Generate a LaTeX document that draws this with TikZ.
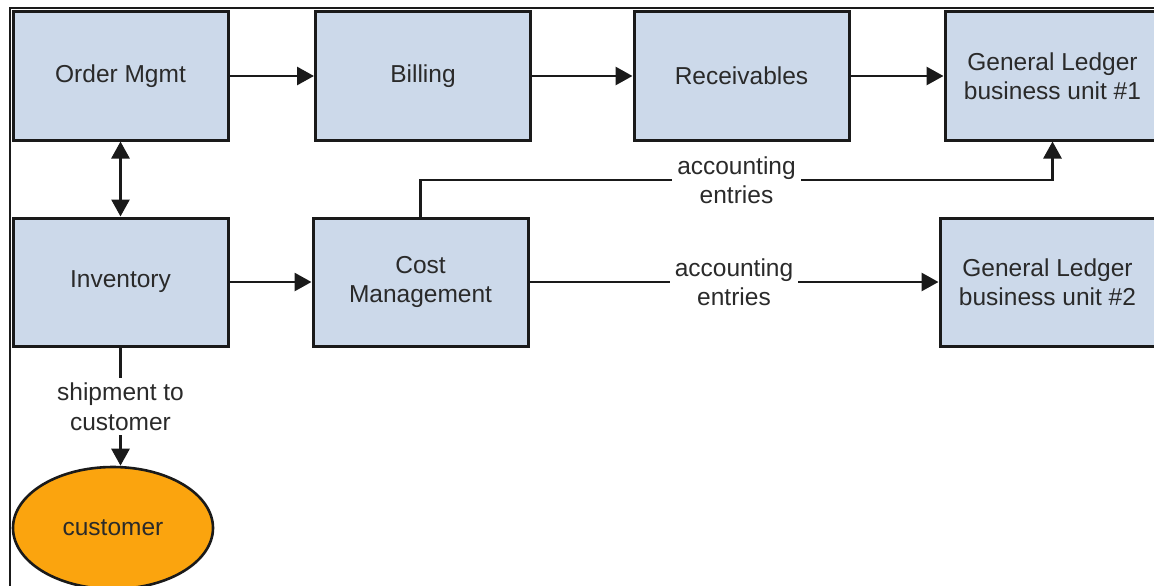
\documentclass[tikz,border=0pt]{standalone}
\usepackage{fontspec}
\setmainfont{Liberation Sans}
\usetikzlibrary{arrows.meta,shapes.geometric}
\definecolor{boxfill}{HTML}{CCD9EA}
\definecolor{edgec}{HTML}{1A1A1A}
\definecolor{txt}{HTML}{2A2A2A}
\definecolor{orangefill}{HTML}{FBA40E}
\begin{document}
\begin{tikzpicture}[x=1pt,y=-1pt,
  font=\fontsize{24.5}{29.5}\selectfont,
  >={Triangle[length=17pt,width=18pt]},
  box/.style={draw=edgec, fill=boxfill, line width=3pt, minimum width=215pt,
    minimum height=128pt, text=txt, align=center, inner sep=0pt},
  conn/.style={draw=edgec, line width=2.8pt, ->},
  lab/.style={fill=white, text=txt, align=center, inner sep=5pt}]
\useasboundingbox (0,0) rectangle (1154,586);
\clip (0,0) rectangle (1154,586);
\draw[edgec, line width=1.5pt] (10,600) -- (10,8) -- (1160,8);

\node[box] (om) at (120.5,76) {Order Mgmt};
\node[box] (bill) at (423,76) {Billing};
\node[box] (rec) at (741.5,76) {Receivables};
\node[box] (gl1) at (1052.5,76) {General Ledger\\business unit \#1};
\node[box] (inv) at (120.5,282) {Inventory};
\node[box] (cost) at (420.5,282) {Cost\\Management};
\node[box] (gl2) at (1047.5,282) {General Ledger\\business unit \#2};
\node[ellipse, draw=edgec, fill=orangefill, line width=2.6pt, minimum width=200pt,
  minimum height=122pt, inner sep=0pt, text=txt] (cust) at (113,528) {customer};

\coordinate (jog) at (0,180);

\draw[conn] (om) -- (bill);
\draw[conn] (bill) -- (rec);
\draw[conn] (rec) -- (gl1);
\draw[conn, <->] (om) -- (inv);
\draw[conn] (inv) -- (cost);
\draw[conn] (cost) -- node[lab] {accounting\\entries} (gl2);
\draw[conn] (cost.north) -- (cost.north |- jog) -- node[lab] {accounting\\entries} (gl1.south |- jog) -- (gl1.south);
\draw[conn] (inv.south) -- node[lab] {shipment to\\customer} (inv.south |- cust.north);
\end{tikzpicture}
\end{document}
